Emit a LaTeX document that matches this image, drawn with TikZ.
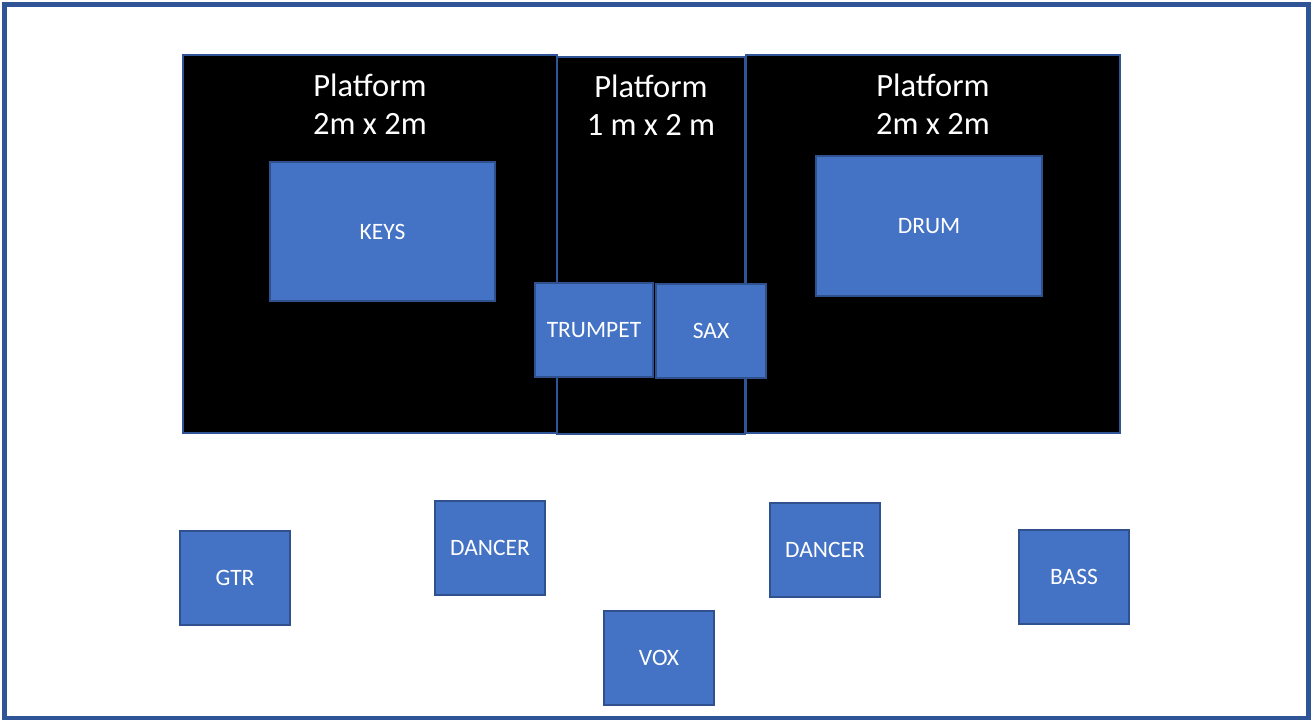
\documentclass[tikz,border=0pt]{standalone}
\usepackage{fontspec}
\setmainfont{Carlito}
\usepackage{xcolor}
\definecolor{frameblue}{HTML}{2F5597}
\definecolor{boxfill}{HTML}{4472C4}
\definecolor{boxline}{HTML}{2F528F}
\tikzset{
  platform/.style={draw=frameblue,line width=2pt,fill=black,inner sep=0pt},
  plattext/.style={text=white,align=center,font=\fontsize{32.5}{38}\selectfont},
  gear/.style={draw=boxline,line width=2pt,fill=boxfill,text=white,inner sep=0pt,
    font=\fontsize{23.5}{28}\selectfont}
}
\begin{document}
\begin{tikzpicture}[x=1pt,y=-1pt]
\useasboundingbox (0,0) rectangle (1312,720);
\draw[frameblue,line width=4.5pt] (4.5,4.5) rectangle (1308.5,718.5);
% platforms
\draw (370,244) node[platform,minimum width=374pt,minimum height=378pt](leftplat) {};
\draw (933,244) node[platform,minimum width=374pt,minimum height=378pt](rightplat) {};
\draw (651,245.5) node[platform,minimum width=188pt,minimum height=377pt](midplat) {};
\draw (370,104) node[plattext](lefttext) {Platform\\2m x 2m};
\draw (651,105) node[plattext](midtext) {Platform\\1 m x 2 m};
\draw (933,104) node[plattext](righttext) {Platform\\2m x 2m};
% gear on the platforms
\draw (382.5,231.5) node[gear,minimum width=225pt,minimum height=139pt](keys) {KEYS};
\draw (929,226) node[gear,minimum width=226pt,minimum height=140pt](drum) {DRUM};
\draw (594,330) node[gear,minimum width=118pt,minimum height=94pt](trumpet) {TRUMPET};
\draw (711,331) node[gear,minimum width=110pt,minimum height=94pt](sax) {SAX};
% front line
\draw (235,578) node[gear,minimum width=110pt,minimum height=94pt](gtr) {GTR};
\draw (490,548) node[gear,minimum width=110pt,minimum height=94pt](dancerl) {DANCER};
\draw (659,658) node[gear,minimum width=110pt,minimum height=94pt](vox) {VOX};
\draw (825,550) node[gear,minimum width=110pt,minimum height=94pt](dancerr) {DANCER};
\draw (1074,577) node[gear,minimum width=110pt,minimum height=94pt](bass) {BASS};
\end{tikzpicture}
\end{document}
